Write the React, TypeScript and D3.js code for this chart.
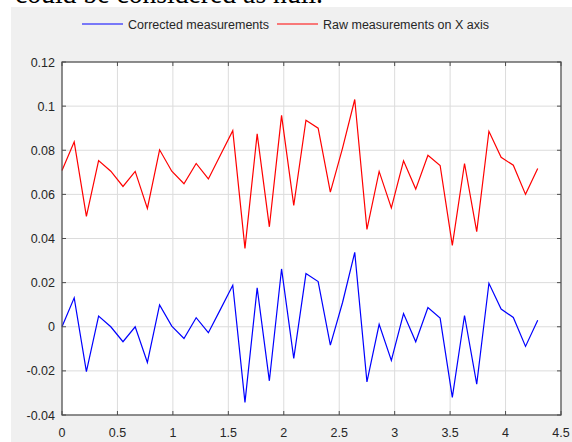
import React from "react";
import * as d3 from "d3";

const seriesNames = ["Corrected measurements", "Raw measurements on X axis"];
const seriesColors = ["#0000ff", "#ff0000"];
const timeStep = 0.11;

const corrected = [
  0, 0.0131, -0.0203, 0.0048, 0.0, -0.0068, 0.0, -0.0162, 0.0099, 0.0003,
  -0.0053, 0.0041, -0.0027, 0.008, 0.0188, -0.0343, 0.0176, -0.0245, 0.0262, -0.0143,
  0.0241, 0.0205, -0.0083, 0.011, 0.0337, -0.025, 0.0011, -0.0153, 0.006, -0.0068,
  0.0087, 0.0039, -0.032, 0.0051, -0.026, 0.0197, 0.008, 0.0042, -0.0089, 0.003,
];
const raw = [
  0.0708, 0.0838, 0.05, 0.0753, 0.0705, 0.0636, 0.0704, 0.0536, 0.0802, 0.0705,
  0.0648, 0.074, 0.067, 0.078, 0.0889, 0.0355, 0.0874, 0.0453, 0.0958, 0.055,
  0.0936, 0.09, 0.061, 0.081, 0.103, 0.0441, 0.0704, 0.0539, 0.0752, 0.0624,
  0.0777, 0.0731, 0.0369, 0.074, 0.0431, 0.0886, 0.0768, 0.0732, 0.06, 0.0717,
];
const xTicks = [0, 0.5, 1, 1.5, 2, 2.5, 3, 3.5, 4, 4.5];
const xTickLabels = ["0", "0.5", "1", "1.5", "2", "2.5", "3", "3.5", "4", "4.5"];
const yTicks = [-0.04, -0.02, 0, 0.02, 0.04, 0.06, 0.08, 0.1, 0.12];
const yTickLabels = ["-0.04", "-0.02", "0", "0.02", "0.04", "0.06", "0.08", "0.1", "0.12"];
const caption = "could be considered as null.";

export default function App() {
  const W = 572, H = 442;
  const left = 62, right = 561, top = 62, bottom = 415;
  const x = d3.scaleLinear().domain([0, 4.5]).range([left, right]);
  const y = d3.scaleLinear().domain([-0.04, 0.12]).range([bottom, top]);
  const line = d3
    .line<number>()
    .x((_, i) => x(i * timeStep))
    .y((d) => y(d));
  const series = [corrected, raw];
  const font = "Liberation Sans, Arial, sans-serif";
  const textColor = "#262626";
  const axisColor = "#4d4d4d";
  const tickLen = 4;
  const legendX = [82, 277];

  return (
    <svg
      width={W}
      height={H}
      style={{ position: "absolute", left: 0, top: 0, background: "#ffffff" }}
    >
      <text
        x={15}
        y={2.5}
        fontFamily="Liberation Serif, Times New Roman, serif"
        fontSize={30}
        textLength={308}
        lengthAdjust="spacingAndGlyphs"
        fill="#000"
      >
        {caption}
      </text>
      <rect x={11} y={7} width={W - 11} height={H - 7} fill="#f0f0f0" />
      <rect x={left} y={top} width={right - left} height={bottom - top} fill="#ffffff" />
      {/* grid */}
      {xTicks.map((t) => (
        <line key={"gx" + t} x1={x(t)} x2={x(t)} y1={top} y2={bottom} stroke="#dcdcdc" strokeWidth={1} />
      ))}
      {yTicks.map((t) => (
        <line key={"gy" + t} x1={left} x2={right} y1={y(t)} y2={y(t)} stroke="#dcdcdc" strokeWidth={1} />
      ))}
      {/* data */}
      {series.map((s, k) => (
        <path key={k} d={line(s) || ""} fill="none" stroke={seriesColors[k]} strokeWidth={1.2} strokeLinejoin="miter" />
      ))}
      {/* box */}
      <rect x={left} y={top} width={right - left} height={bottom - top} fill="none" stroke={axisColor} strokeWidth={1.2} />
      {/* ticks */}
      {xTicks.map((t) => (
        <g key={"tx" + t}>
          <line x1={x(t)} x2={x(t)} y1={bottom} y2={bottom - tickLen} stroke={axisColor} />
          <line x1={x(t)} x2={x(t)} y1={top} y2={top + tickLen} stroke={axisColor} />
        </g>
      ))}
      {yTicks.map((t) => (
        <g key={"ty" + t}>
          <line x1={left} x2={left + tickLen} y1={y(t)} y2={y(t)} stroke={axisColor} />
          <line x1={right} x2={right - tickLen} y1={y(t)} y2={y(t)} stroke={axisColor} />
        </g>
      ))}
      {/* tick labels */}
      {xTicks.map((t, i) => (
        <text key={"lx" + t} x={x(t)} y={437} textAnchor="middle" fontFamily={font} fontSize={12.5} fill={textColor}>
          {xTickLabels[i]}
        </text>
      ))}
      {yTicks.map((t, i) => (
        <text key={"ly" + t} x={left - 7} y={y(t)} dy="0.36em" textAnchor="end" fontFamily={font} fontSize={12.5} fill={textColor}>
          {yTickLabels[i]}
        </text>
      ))}
      {/* legend */}
      {seriesNames.map((n, k) => (
        <g key={"lg" + k}>
          <line x1={legendX[k]} x2={legendX[k] + 41} y1={24} y2={24} stroke={seriesColors[k]} strokeWidth={1.2} />
          <text x={legendX[k] + 46} y={24} dy="0.36em" fontFamily={font} fontSize={12.5} fill={textColor}>
            {n}
          </text>
        </g>
      ))}
    </svg>
  );
}
